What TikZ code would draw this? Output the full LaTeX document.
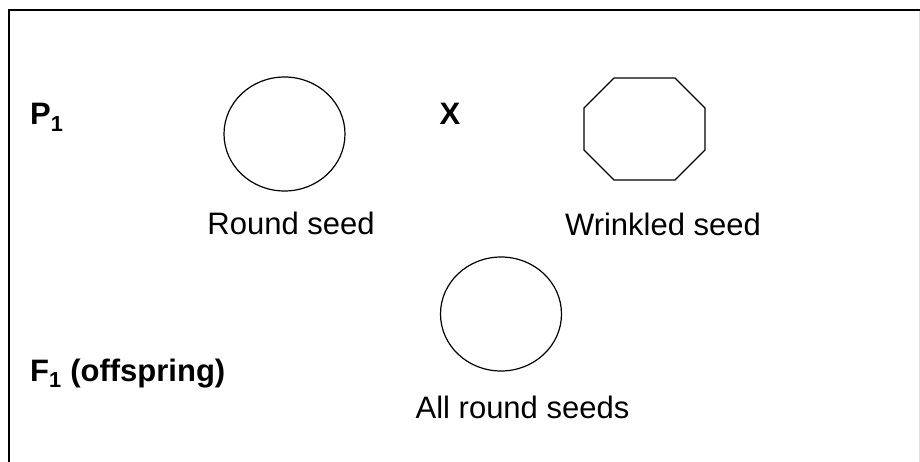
\documentclass[tikz,border=0pt]{standalone}
\usepackage{fontspec}
\setmainfont{Liberation Sans}
\usetikzlibrary{shapes.geometric}

\begin{document}
\begin{tikzpicture}[x=1pt, y=-1pt,
  rotulo/.style={inner sep=0pt, font=\fontsize{31}{31}\selectfont},
  geracao/.style={rotulo, anchor=base west, font=\fontsize{31}{31}\selectfont\bfseries},
  semente/.style={draw, ellipse, line width=1.2pt, inner sep=0pt,
                  minimum width=121pt, minimum height=114pt},
  moldura/.style={line width=2pt, draw=black}]

  \useasboundingbox (0,0) rectangle (920,462);

  % moldura (so topo e lado esquerdo)
  \coordinate (cantoB) at (9,462);
  \coordinate (cantoA) at (9,10);
  \coordinate (cantoC) at (920,10);
  \draw[moldura] (cantoB) -- (cantoA) -- (cantoC);
  \coordinate (dirA) at (919,11);
  \coordinate (dirB) at (919,462);
  \draw[gray!25, line width=0.8pt] (dirA) -- (dirB);

  % geracao parental
  \node[geracao] (p1) at (30,125) {P\textsubscript{1}};
  \node[semente] (redonda) at (284.5,134) {};
  \node[rotulo, anchor=base, font=\fontsize{31}{31}\selectfont\bfseries] (cruz) at (450,125) {X};
  \draw[line width=1.2pt] (614,78) -- (675,78) -- (705,108) -- (705,150)
    -- (675,180) -- (614,180) -- (584,150) -- (584,108) -- cycle;
  \node[rotulo, anchor=base] (lblred) at (291,235) {Round seed};
  \node[rotulo, anchor=base] (lblrug) at (663,236) {Wrinkled seed};

  % geracao filial
  \node[geracao] (f1) at (30,381) {F\textsubscript{1} (offspring)};
  \node[semente] (filha) at (501,314) {};
  \node[rotulo, anchor=base] (lblf1) at (522.5,418) {All round seeds};
\end{tikzpicture}
\end{document}
